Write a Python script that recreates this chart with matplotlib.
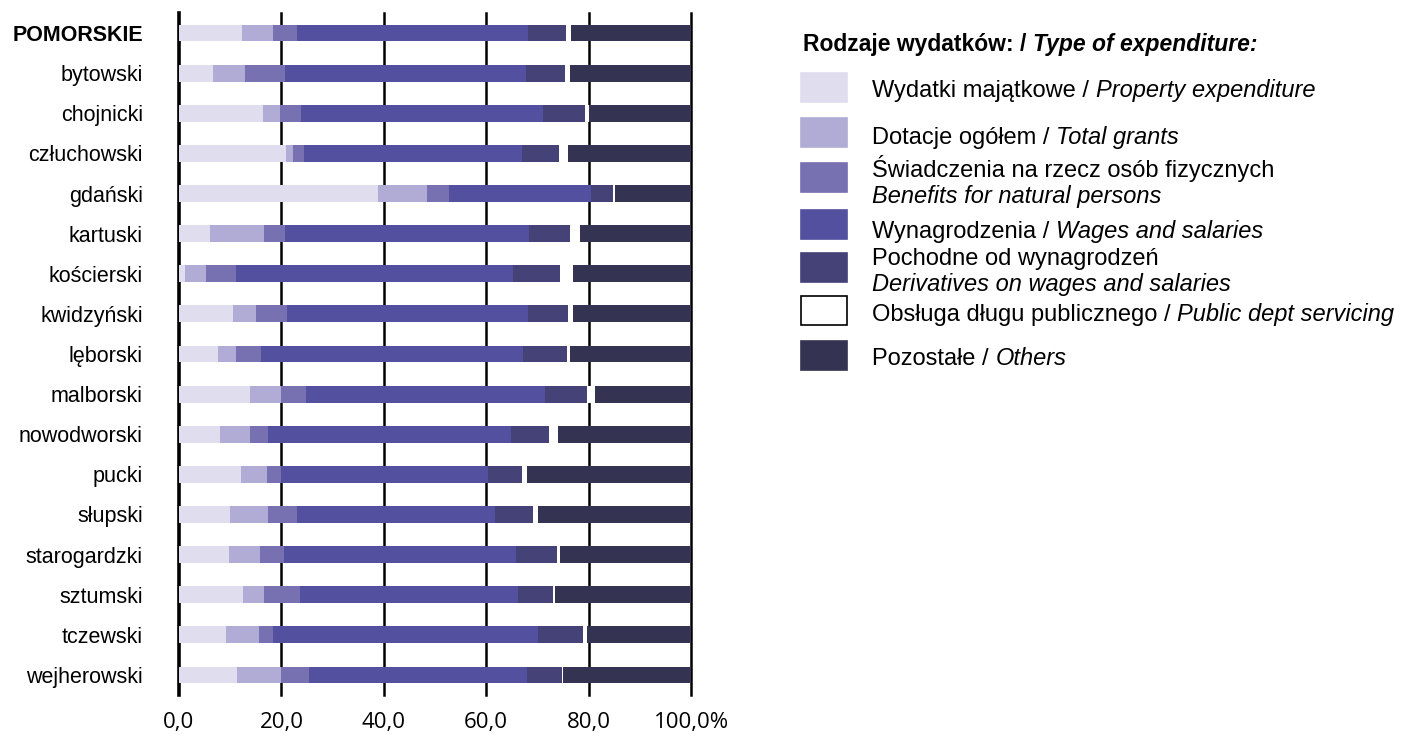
import numpy as np
import matplotlib
matplotlib.use("Agg")
from matplotlib import pyplot as plt
from matplotlib.patches import Rectangle

# powiaty (top to bottom)
regions = ["POMORSKIE", "bytowski", "chojnicki", "człuchowski", "gdański",
           "kartuski", "kościerski", "kwidzyński", "lęborski", "malborski",
           "nowodworski", "pucki", "słupski", "starogardzki", "sztumski",
           "tczewski", "wejherowski"]

# shares of expenditure, %
property_exp = [12.3, 6.7, 16.5, 20.9, 38.9, 6.0, 1.1, 10.6, 7.7, 13.9, 8.0, 12.2, 10.0, 9.8, 12.5, 9.2, 11.3]
grants       = [6.1, 6.2, 3.2, 1.4, 9.5, 10.6, 4.1, 4.4, 3.5, 6.0, 5.9, 5.0, 7.4, 6.0, 4.1, 6.4, 8.6]
benefits     = [4.6, 7.9, 4.1, 2.2, 4.4, 4.2, 5.9, 6.0, 4.9, 4.9, 3.4, 2.8, 5.6, 4.7, 7.0, 2.7, 5.4]
wages        = [45.1, 46.9, 47.2, 42.4, 27.6, 47.5, 54.1, 47.1, 51.0, 46.7, 47.6, 40.3, 38.8, 45.4, 42.7, 51.9, 42.6]
derivatives  = [7.5, 7.7, 8.2, 7.3, 4.4, 8.1, 9.2, 7.9, 8.6, 8.2, 7.4, 6.7, 7.4, 7.9, 6.8, 8.7, 7.0]
debt         = [1.0, 1.0, 0.9, 1.8, 0.3, 1.9, 2.5, 1.0, 0.7, 1.5, 1.7, 0.9, 0.9, 0.6, 0.3, 0.7, 0.1]
others       = [23.4, 23.6, 19.9, 24.0, 14.9, 21.7, 23.1, 23.0, 23.6, 18.8, 26.0, 32.1, 29.9, 25.6, 26.6, 20.4, 25.0]

series = [property_exp, grants, benefits, wages, derivatives, debt, others]
colors = ["#e0ddef", "#b0acd5", "#7770b1", "#5350a0", "#454278", "#ffffff", "#343352"]
labels = [("Wydatki majątkowe / ", "Property expenditure", None),
          ("Dotacje ogółem / ", "Total grants", None),
          ("Świadczenia na rzecz osób fizycznych", "Benefits for natural persons", "two"),
          ("Wynagrodzenia / ", "Wages and salaries", None),
          ("Pochodne od wynagrodzeń", "Derivatives on wages and salaries", "two"),
          ("Obsługa długu publicznego / ", "Public dept servicing", None),
          ("Pozostałe / ", "Others", None)]

plt.rcParams['font.family'] = ['Liberation Sans', 'DejaVu Sans']

fig = plt.figure(figsize=(14.07, 7.34), dpi=100)
ax = fig.add_axes([179/1407, 1 - 695/734, 512/1407, 682/734])

y = np.arange(len(regions))
left = np.zeros(len(regions))
for vals, col in zip(series, colors):
    ax.barh(y, vals, left=left, height=0.42, color=col, edgecolor="none", zorder=3)
    left += np.array(vals)

ax.set_xlim(0, 100)
ax.set_ylim(len(regions) - 0.5, -0.5)
ax.set_xticks([0, 20, 40, 60, 80, 100])
ax.set_xticklabels(["0,0", "20,0", "40,0", "60,0", "80,0", "100,0%"],
                   fontsize=16, family=['Open Sans', 'DejaVu Sans'])
ax.set_yticks(y)
ax.set_yticklabels(regions, fontsize=15.5)
ax.get_yticklabels()[0].set_fontweight("bold")
ax.tick_params(axis="both", length=0)
ax.tick_params(axis="y", pad=26)
ax.tick_params(axis="x", pad=12)
for s in ax.spines.values():
    s.set_visible(False)
ax.grid(axis="x", color="black", linewidth=1.8, zorder=1)
ax.grid(axis="y", visible=False)
for gl in ax.get_xgridlines():
    gl.set_clip_on(False)
ax.get_xgridlines()[0].set_linewidth(2.6)

# legend (positions in pixels from top-left)
W, H = 1407.0, 734.0
fs = 17
t = fig.text(803 / W, 1 - 51 / H, "Rodzaje wydatków: / ", fontsize=16.5, fontweight="bold", va="baseline")
fig.canvas.draw()
fig.text(t.get_window_extent().x1 / W, 1 - 51 / H, "Type of expenditure:", fontsize=16.5,
         fontweight="bold", style="italic", va="baseline")

patch_top = [73, 118, 163, 210, 253, 296, 341]
baselines = [97, 144, [177, 203], 238, [265, 291], 321, 365]
for i, (col, lab) in enumerate(zip(colors, labels)):
    ec = "black" if col == "#ffffff" else col
    fig.patches.append(Rectangle((801 / W, 1 - (patch_top[i] + 29) / H), 46 / W, 29 / H,
                                 transform=fig.transFigure, facecolor=col,
                                 edgecolor=ec, linewidth=1.2))
    pl, en, kind = lab
    if kind == "two":
        fig.text(872 / W, 1 - baselines[i][0] / H, pl, fontsize=fs, va="baseline")
        fig.text(872 / W, 1 - baselines[i][1] / H, en, fontsize=fs, va="baseline", style="italic")
    else:
        t = fig.text(872 / W, 1 - baselines[i] / H, pl, fontsize=fs, va="baseline")
        fig.canvas.draw()
        bb = t.get_window_extent()
        fig.text(bb.x1 / W, 1 - baselines[i] / H, en, fontsize=fs, va="baseline", style="italic")

fig.savefig("out.png", dpi=100)
